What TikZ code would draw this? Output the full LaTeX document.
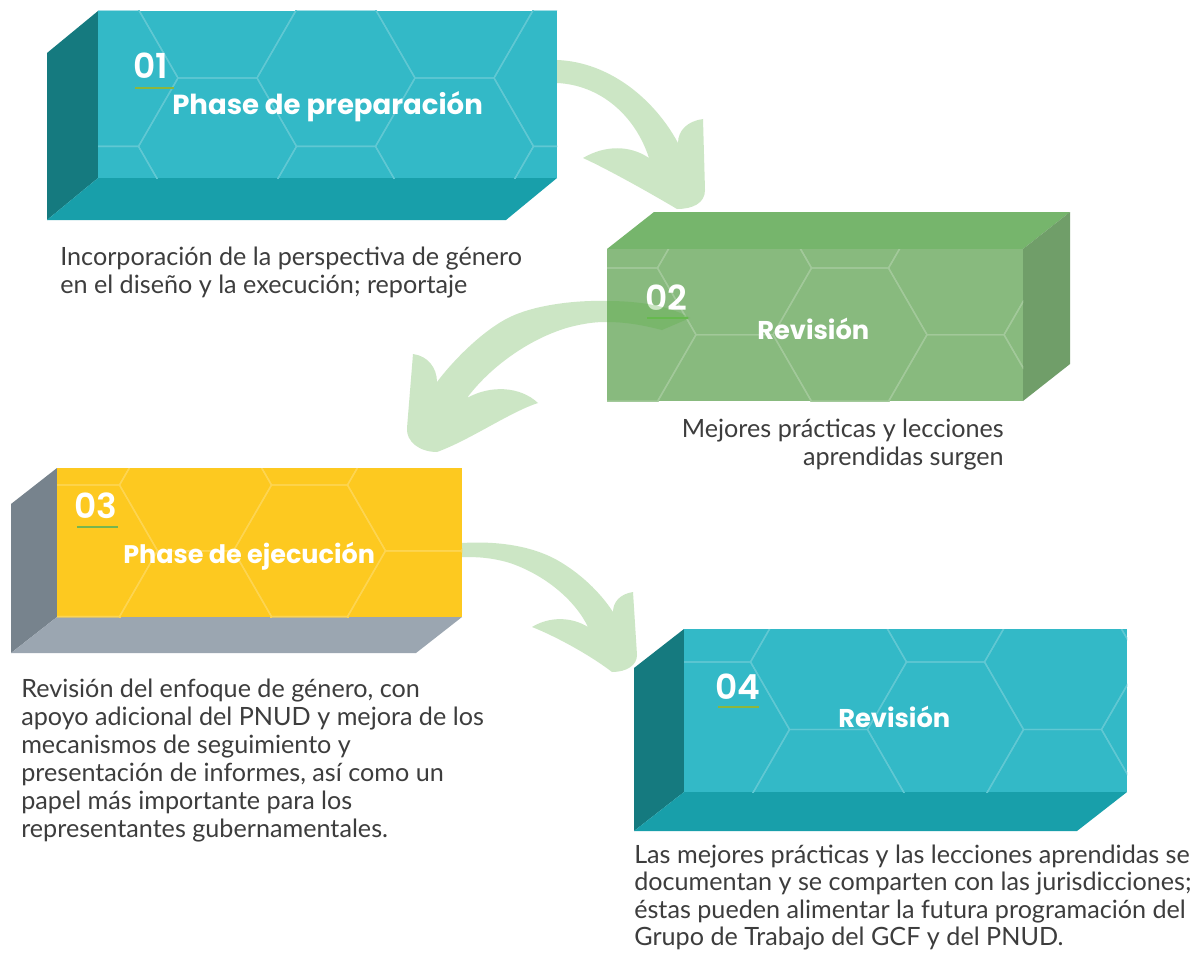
\documentclass[tikz,border=0pt]{standalone}
\usepackage{fontspec}
\setmainfont{Lato}
\newfontfamily\popfont{Poppins}
\newfontfamily\popnum{Poppins SemiBold}

\definecolor{tealface}{HTML}{33B9C7}
\definecolor{tealside}{HTML}{157A7F}
\definecolor{tealbottom}{HTML}{189FAA}
\definecolor{greenface}{HTML}{88BA7E}
\definecolor{greentop}{HTML}{76B56C}
\definecolor{greenside}{HTML}{709E69}
\definecolor{yellowface}{HTML}{FDC920}
\definecolor{grayside}{HTML}{77838D}
\definecolor{graybottom}{HTML}{9BA6B1}
\definecolor{arrowgreen}{HTML}{58AF41}
\definecolor{bodytext}{HTML}{3D3D3D}
\definecolor{olivebar}{HTML}{8DB63C}
\definecolor{greenbar}{HTML}{76B54F}
\definecolor{darkgreenbar}{HTML}{6DBE54}

\tikzset{
  arrowshape/.style={fill=arrowgreen, fill opacity=0.3},
  numlabel/.style={anchor=base west, inner sep=0pt, text=white,
    font=\popnum\fontsize{24.5}{28}\selectfont},
  titlelabel/.style={anchor=base west, inner sep=0pt, text=white,
    font=\popfont\bfseries\fontsize{#1}{24}\selectfont},
  titlelabel/.default=18.3,
  bodylabel/.style={inner sep=0pt, text=bodytext,
    font=\fontsize{17.9}{#1}\selectfont},
  bodylabel/.default=19.92,
  underbar/.style={line width=1.6pt},
  hexline/.style={line width=1pt}
}

% hexagonal pattern clipped to a front face:
% #1,#2 top-left corner, #3,#4 bottom-right corner, #5 side length,
% #6,#7 centre of hexagon (0,0), #8 line colour
\newcommand\hexgrid[8]{%
  \begin{scope}
    \clip (#1,#2) rectangle (#3,#4);
    \pgfmathsetmacro\hs{#5}
    \pgfmathsetmacro\hh{#5*sqrt(3)}
    \foreach \i in {-4,...,5}{
      \foreach \j in {-2,...,2}{
        \pgfmathsetmacro\xc{#6+1.5*\hs*\i}
        \pgfmathsetmacro\yc{#7+\hh*\j+mod(\i,2)*\hh/2}
        \draw[hexline, #8] ({\xc-\hs},\yc) -- ({\xc-\hs/2},{\yc-\hh/2})
          -- ({\xc+\hs/2},{\yc-\hh/2}) -- ({\xc+\hs},\yc)
          -- ({\xc+\hs/2},{\yc+\hh/2}) -- ({\xc-\hs/2},{\yc+\hh/2}) -- cycle;
      }}
  \end{scope}}

\begin{document}
\begin{tikzpicture}[x=0.025cm, y=-0.025cm]
\useasboundingbox (0,0) rectangle (1200,952);
\fill[white] (0,0) rectangle (1200,952);

% ---- curved arrows lying behind the blocks ----
% from block 01 down to block 02
\fill[arrowshape] (540,60) -- (557,60)
  .. controls (610,62) and (655,100) .. (678,143)
  .. controls (678,130) and (688,121) .. (703,119)
  -- (705,190)
  .. controls (705,203) and (693,209) .. (677,209)
  .. controls (645,190) and (605,168) .. (583,158)
  .. controls (605,145) and (630,145) .. (649,158)
  .. controls (635,115) and (600,85) .. (557,83)
  -- (540,83) -- cycle;

% from block 03 down to block 04
\fill[arrowshape] (455,543) -- (462,543)
  .. controls (495,541) and (530,545) .. (557,560)
  .. controls (580,573) and (600,592) .. (613,612)
  .. controls (613,602) and (620,594) .. (633,592)
  -- (637,655)
  .. controls (637,665) and (627,672) .. (612,672)
  .. controls (590,655) and (555,636) .. (532,627)
  .. controls (550,616) and (572,617) .. (588,627)
  .. controls (575,600) and (545,575) .. (510,563)
  .. controls (490,557) and (475,557) .. (462,557)
  -- (455,557) -- cycle;

% ---- block 01 ----
\fill[tealside] (98,11) -- (47,53) -- (47,220) -- (98,178) -- cycle;
\fill[tealbottom] (98,178) -- (557,178) -- (506,220) -- (47,220) -- cycle;
\fill[tealface] (98,11) rectangle (557,178);
\hexgrid{98}{11}{557}{178}{79}{217.5}{146.4}{tealface!78!white}
\draw[underbar, olivebar] (135,88) -- (174,88);
\node[numlabel] (n1) at (133,79) {01};
\node[titlelabel=19.6] (t1) at (172,115) {Phase de preparación};

% ---- block 02 ----
\fill[greentop] (607,249) -- (654,212) -- (1070,212) -- (1023,249) -- cycle;
\fill[greenside] (1023,249) -- (1070,212) -- (1070,364) -- (1023,401) -- cycle;
\fill[greenface] (607,249) rectangle (1023,401);
\hexgrid{607}{249}{1023}{401}{77}{850}{334.7}{greenface!78!white}
\draw[underbar, darkgreenbar] (647,318) -- (688,318);
\node[numlabel] (n2) at (645,310) {02};
\node[titlelabel] (t2) at (757,339) {Revisión};

% arrow from block 02 back to block 03 (passes over block 02)
\fill[arrowshape] (690,318)
  .. controls (670,306) and (640,301) .. (607,301)
  .. controls (575,300) and (535,305) .. (510,317)
  .. controls (485,329) and (455,358) .. (437,382)
  .. controls (437,368) and (428,356) .. (413,354)
  -- (407,428)
  .. controls (406,442) and (420,452) .. (437,452)
  .. controls (470,440) and (510,412) .. (538,403)
  .. controls (520,386) and (490,385) .. (467,398)
  .. controls (490,367) and (530,338) .. (570,327)
  .. controls (590,322) and (600,322) .. (607,322)
  .. controls (630,322) and (650,327) .. (662,330)
  -- cycle;

% ---- block 03 ----
\fill[grayside] (57,468) -- (11,504) -- (11,653) -- (57,617) -- cycle;
\fill[graybottom] (57,617) -- (462,617) -- (416,653) -- (11,653) -- cycle;
\fill[yellowface] (57,468) rectangle (462,617);
\hexgrid{57}{468}{462}{617}{76}{81.5}{550.8}{yellowface!78!white}
\draw[underbar, greenbar] (77,527) -- (118,527);
\node[numlabel] (n3) at (74,518) {03};
\node[titlelabel=18.1] (t3) at (123,563) {Phase de ejecución};

% ---- block 04 ----
\fill[tealside] (684,629) -- (634,668) -- (634,831) -- (684,792) -- cycle;
\fill[tealbottom] (684,792) -- (1127,792) -- (1077,831) -- (634,831) -- cycle;
\fill[tealface] (684,629) rectangle (1127,792);
\hexgrid{684}{629}{1127}{792}{78}{711.5}{729.5}{tealface!78!white}
\draw[underbar, olivebar] (718,707) -- (759,707);
\node[numlabel] (n4) at (715,699) {04};
\node[titlelabel] (t4) at (838,727) {Revisión};

% ---- descriptions ----
\node[bodylabel, anchor=base west] (d1) at (60,265)
  {\begin{tabular}[t]{@{}l@{}}Incorporación de la perspectiva de género\\
   en el diseño y la execución; reportaje\end{tabular}};
\node[bodylabel, anchor=base east] (d2) at (1004,437)
  {\begin{tabular}[t]{@{}r@{}}Mejores prácticas y lecciones\\
   aprendidas surgen\end{tabular}};
\node[bodylabel, anchor=base west] (d3) at (21,697)
  {\begin{tabular}[t]{@{}l@{}}Revisión del enfoque de género, con\\
   apoyo adicional del PNUD y mejora de los\\
   mecanismos de seguimiento y\\
   presentación de informes, así como un\\
   papel más importante para los\\
   representantes gubernamentales.\end{tabular}};
\node[bodylabel=19.56, anchor=base west] (d4) at (634,863)
  {\begin{tabular}[t]{@{}l@{}}Las mejores prácticas y las lecciones aprendidas se\\
   documentan y se comparten con las jurisdicciones;\\
   éstas pueden alimentar la futura programación del\\
   Grupo de Trabajo del GCF y del PNUD.\end{tabular}};
\end{tikzpicture}
\end{document}
